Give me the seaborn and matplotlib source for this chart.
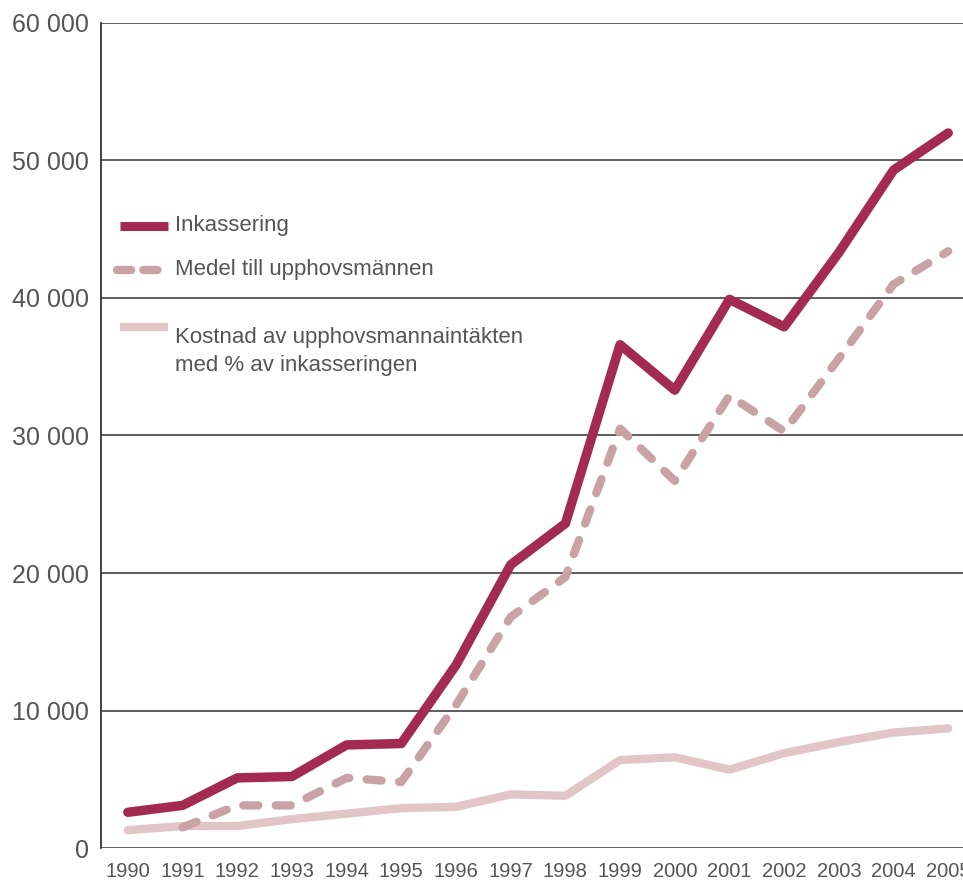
import numpy as np
import pandas as pd
import seaborn as sns
from matplotlib import pyplot as plt
from matplotlib.ticker import FuncFormatter

years = list(range(1990, 2006))
inkassering = [2600, 3100, 5100, 5200, 7500, 7600, 13300, 20600, 23600,
               36600, 33300, 39900, 37900, 43300, 49300, 52000]
medel_years = list(range(1991, 2006))
medel = [1500, 3100, 3100, 5100, 4800, 10400, 16800, 19700,
         30500, 26700, 32900, 30300, 35600, 41000, 43400]
kostnad = [1300, 1600, 1600, 2100, 2500, 2900, 3000, 3900, 3800,
           6400, 6600, 5700, 6900, 7700, 8400, 8700]
labels = ["Inkassering", "Medel till upphovsmännen",
          "Kostnad av upphovsmannaintäkten\nmed % av inkasseringen"]

c_ink = "#A32B51"
c_med = "#C9A2A6"
c_kos = "#E2C5C6"
txt = "#555555"

sns.set_style("white")
plt.rcParams['font.family'] = ['Liberation Sans', 'DejaVu Sans']

fig = plt.figure(figsize=(9.63, 8.83), dpi=100)
ax = fig.add_axes([0.1049, 0.0396, 0.8951, 0.9344])

for y in range(0, 60001, 10000):
    ax.axhline(y, color="#333333", lw=1.1, zorder=1)

sns.lineplot(x=years, y=kostnad, ax=ax, color=c_kos, lw=6,
             solid_capstyle="round", zorder=2)
ln = sns.lineplot(x=medel_years, y=medel, ax=ax, color=c_med, lw=6, zorder=3)
ln.lines[-1].set_dashes((1.8, 2.1))
ln.lines[-1].set_dash_capstyle("round")
sns.lineplot(x=years, y=inkassering, ax=ax, color=c_ink, lw=6.8,
             solid_capstyle="round", zorder=4)

ax.set_xlim(1989.51, 2005.27)
ax.set_ylim(0, 60000)
ax.set_xticks(years)
ax.set_yticks(range(0, 60001, 10000))
ax.yaxis.set_major_formatter(FuncFormatter(lambda v, p: f"{int(v):,}".replace(",", " ")))
ax.tick_params(axis="y", length=0, pad=9, labelsize=18, labelcolor=txt)
ax.tick_params(axis="x", length=0, pad=10, labelsize=14.5, labelcolor=txt)
for s in ["top", "right", "bottom"]:
    ax.spines[s].set_visible(False)
ax.spines["left"].set_color("#333333")
ax.spines["left"].set_linewidth(1.3)
ax.set_xlabel("")
ax.set_ylabel("")

# legend drawn by hand (handle aligned with first text line)
leg_x0, leg_x1, tx = 0.022, 0.078, 0.086
rows = [0.754, 0.701, 0.632]
ax.plot([leg_x0, leg_x1], [rows[0]] * 2, transform=ax.transAxes, color=c_ink, lw=6.5,
        solid_capstyle="butt", clip_on=False)
ax.plot([0.019, 0.074], [rows[1]] * 2, transform=ax.transAxes, color=c_med, lw=6,
        dashes=(1.7, 1.45), dash_capstyle="round", clip_on=False)
ax.plot([leg_x0, leg_x1], [rows[2]] * 2, transform=ax.transAxes, color=c_kos, lw=6,
        solid_capstyle="butt", clip_on=False)
for r, lab in zip(rows, labels):
    ax.text(tx, r, lab, transform=ax.transAxes, fontsize=16, color=txt,
            va="top" if "\n" in lab else "center", linespacing=1.45)

fig.savefig("out.png", dpi=100)
